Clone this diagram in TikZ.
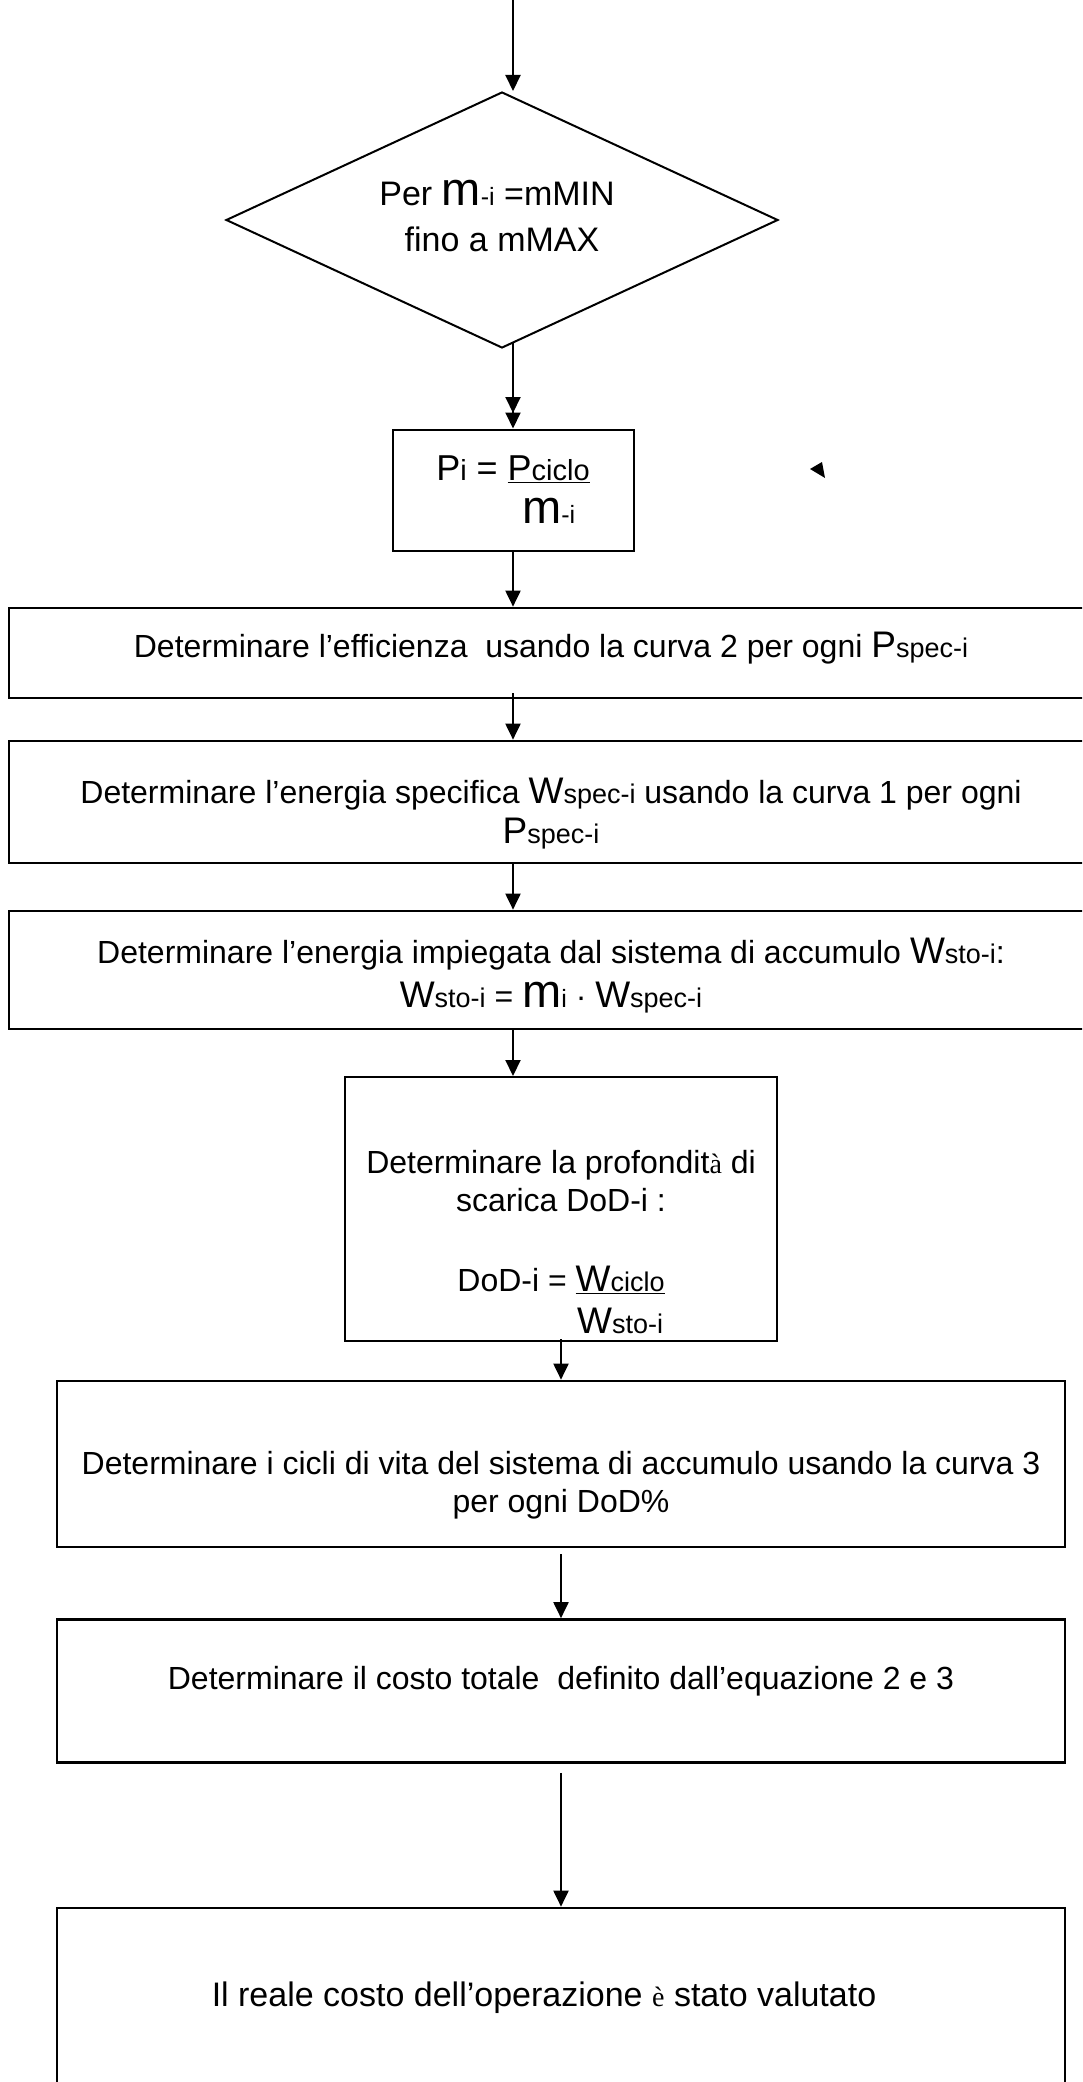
\documentclass[tikz,border=0pt]{standalone}
\usepackage{fontspec}
\setmainfont{Liberation Sans}
\newfontfamily\serfont{Liberation Serif}
\usetikzlibrary{arrows.meta, shapes.geometric}

% quantity: big letter, small suffix on the same baseline
\newcommand{\qn}[2]{{\fontsize{37}{38}\selectfont #1}{\fontsize{27}{38}\selectfont #2}}
\newcommand{\qs}[2]{{#1}{\fontsize{29}{38}\selectfont #2}}
\newcommand{\massq}[1]{{\fontsize{47}{38}\selectfont m}{\fontsize{25}{38}\selectfont #1}}
\newcommand{\serch}[1]{{\serfont\fontsize{28}{38}\selectfont #1}}

\begin{document}
\begin{tikzpicture}[->,>={Triangle[length=16pt,width=15pt]},line width=2pt,
			x=1pt,y=-1pt,font=\fontsize{32}{38}\selectfont,
			widebox/.style={draw,line width=2.7pt,align=center,inner sep=0pt},
			smallbox/.style={draw,line width=2pt,align=center,inner sep=0pt}]

			\useasboundingbox (0,0) rectangle (1082,2082);
			\clip (0,0) rectangle (1082,2082);

			\coordinate (start) at (513,0);
			\node [diamond,aspect=2.125,draw,minimum width=552pt,minimum height=256pt,inner sep=0pt,align=center,font=\fontsize{34}{38}\selectfont] at (502,220) (loop) {Per \massq{-i} =mMIN\hspace*{10pt}\\[8pt]fino a mMAX\hspace*{10pt}\\[-30pt]\mbox{}};

			\node [smallbox,minimum width=241pt,minimum height=121pt] at (513,490) (power) {{\fontsize{36}{38}\selectfont\qs{P}{i} = \underline{\qs{P}{ciclo}}}\\[5pt]{\fontsize{36}{38}\selectfont\hphantom{\qs{P}{i} = }}\massq{-i}};
			\coordinate (tip) at (513,413);

			\node [widebox,minimum width=1084pt,minimum height=90pt] at (551,653) (eff) {Determinare l’efficienza\ \ usando la curva 2 per ogni \qn{P}{spec-i}\\[-22pt]\mbox{}};
			\node [widebox,minimum width=1084pt,minimum height=122pt] at (551,802) (wspec) {\mbox{}\\[11pt]Determinare l’energia specifica \qn{W}{spec-i} usando la curva 1 per ogni\\[2pt]\qn{P}{spec-i}};
			\node [widebox,minimum width=1084pt,minimum height=118pt] at (551,970) (wsto) {\mbox{}\\[-1pt]Determinare l’energia impiegata dal sistema di accumulo \qn{W}{sto-i}:\\[6pt]\qn{W}{sto-i} = \massq{i} · \qn{W}{spec-i}};

			\node [smallbox,minimum width=432pt,minimum height=264pt] at (561,1209) (dod) {\mbox{}\\[52pt]Determinare la profondit\serch{à} di\\scarica DoD-i :\\[42pt]DoD-i = \underline{\qn{W}{ciclo}}\\[4pt]\hphantom{DoD-i = }\qn{W}{sto-i}};

			\node [widebox,minimum width=1008pt,minimum height=166pt] at (561,1464) (life) {\mbox{}\\[28pt]Determinare i cicli di vita del sistema di accumulo usando la curva 3\\per ogni DoD\%};
			\node [widebox,minimum width=1008pt,minimum height=143pt] at (561,1691) (cost) {Determinare il costo totale\ \ definito dall’equazione 2 e 3\\[-12pt]\mbox{}};
			\node [widebox,minimum width=1008pt,minimum height=180pt,font=\fontsize{34}{38}\selectfont] at (561,1998) (real) {Il reale costo dell’operazione \serch{è} stato valutato\hspace*{34pt}};

			% connectors
			\draw (start) -- (start |- loop.north);
			\draw[shorten <=-6pt] (power.north |- loop.south) -- (power.north);
			\draw[shorten <=-6pt] (power.north |- loop.south) -- (tip);
			\draw (power.south) -- (power.south |- eff.north);
			\draw[shorten <=-6pt] (power.south |- eff.south) -- (power.south |- wspec.north);
			\draw (power.south |- wspec.south) -- (power.south |- wsto.north);
			\draw (power.south |- wsto.south) -- (power.south |- dod.north);
			\draw[shorten <=-3pt] (dod.south) -- (dod.south |- life.north);
			\draw[shorten <=6pt] (life.south) -- (life.south |- cost.north);
			\draw[shorten <=9pt] (cost.south) -- (cost.south |- real.north);

			% stray arrow tip
			\coordinate (stray) at (810,469);
			\fill (stray) -- ++(12,-7) -- ++(3,16) -- cycle;

		\end{tikzpicture}
\end{document}
